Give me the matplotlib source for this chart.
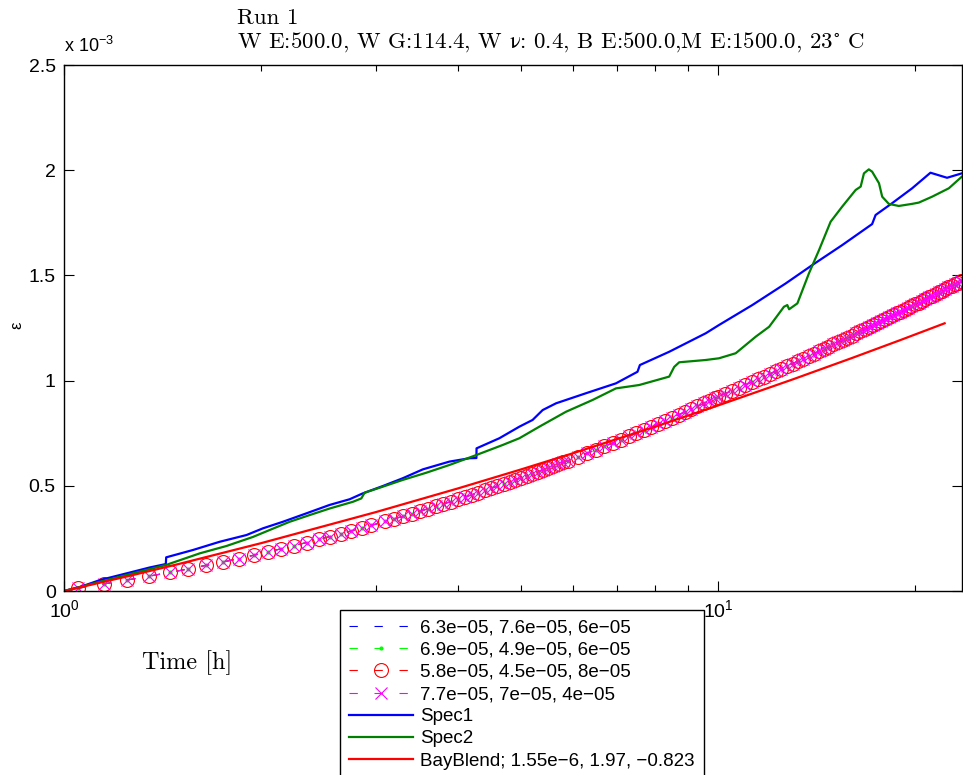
import numpy as np
import matplotlib
matplotlib.use('Agg')
import matplotlib.pyplot as plt

plt.rcParams['font.family'] = 'Liberation Sans'
plt.rcParams['mathtext.fontset'] = 'custom'
plt.rcParams['mathtext.rm'] = 'Liberation Sans'
plt.rcParams['mathtext.it'] = 'Liberation Sans:italic'
plt.rcParams['mathtext.default'] = 'regular'
plt.rcParams['lines.scale_dashes'] = False

# model curves (all four fits lie on top of each other), strain in 1e-3
t_model = np.concatenate([np.linspace(1.05, 2.95, 20), np.linspace(3.1, 5.9, 29),
                          np.linspace(6.1, 9.9, 20), np.linspace(10.0, 23.5, 55)])
eps_model = [0.0128, 0.0335, 0.0525, 0.0707, 0.0881, 0.105, 0.122, 0.138, 0.154, 0.170,
             0.186, 0.201, 0.216, 0.2305, 0.2448, 0.2588, 0.2725, 0.2859, 0.2991, 0.312,
             0.3309, 0.3432, 0.3555, 0.3674, 0.3792, 0.3908, 0.4023, 0.4135, 0.4246, 0.4355,
             0.4464, 0.457, 0.4676, 0.478, 0.4883, 0.4984, 0.5084, 0.5183, 0.5281, 0.5377,
             0.5473, 0.5567, 0.5661, 0.5753, 0.5845, 0.5935, 0.6025, 0.6113, 0.6201,
             0.6375, 0.6545, 0.6711, 0.6875, 0.7036, 0.7194, 0.7349, 0.7503, 0.7653, 0.7801,
             0.7948, 0.8092, 0.8233, 0.8373, 0.851, 0.8646, 0.8779, 0.8912, 0.9041, 0.917,
             0.923, 0.9375, 0.952, 0.9655, 0.979, 0.9925, 1.006, 1.019, 1.032, 1.0445,
             1.057, 1.069, 1.081, 1.093, 1.105, 1.1165, 1.128, 1.139, 1.150, 1.161,
             1.172, 1.1825, 1.193, 1.2035, 1.214, 1.224, 1.234, 1.244, 1.254, 1.2635,
             1.273, 1.2825, 1.292, 1.301, 1.310, 1.319, 1.328, 1.3365, 1.345, 1.3535,
             1.362, 1.3705, 1.379, 1.3875, 1.396, 1.404, 1.412, 1.42, 1.428, 1.4355,
             1.443, 1.4505, 1.458, 1.4655, 1.473]
model_labels = ['6.3e\u221205, 7.6e\u221205, 6e\u221205',
                '6.9e\u221205, 4.9e\u221205, 6e\u221205',
                '5.8e\u221205, 4.5e\u221205, 8e\u221205',
                '7.7e\u221205, 7e\u221205, 4e\u221205']

# measured specimens
t_spec1 = [1.0, 1.058, 1.135, 1.247, 1.353, 1.431, 1.433, 1.575, 1.730, 1.901, 2.015, 2.161,
           2.347, 2.547, 2.733, 2.863, 3.073, 3.296, 3.536, 3.884, 4.168, 4.271, 4.273, 4.630,
           4.968, 5.205, 5.393, 5.652, 6.281, 6.98, 7.53, 7.594, 8.419, 9.576, 10.03, 11.28,
           12.69, 13.93, 15.48, 17.20, 17.41, 18.45, 19.80, 21.12, 22.39, 23.58]
eps_spec1 = [0.0, 0.019, 0.052, 0.084, 0.112, 0.128, 0.160, 0.195, 0.234, 0.266, 0.298, 0.329,
             0.369, 0.409, 0.436, 0.464, 0.499, 0.536, 0.578, 0.615, 0.631, 0.632, 0.678, 0.726,
             0.781, 0.813, 0.860, 0.892, 0.940, 0.987, 1.042, 1.074, 1.137, 1.225, 1.264, 1.359,
             1.462, 1.549, 1.644, 1.744, 1.787, 1.843, 1.914, 1.988, 1.964, 1.985]

t_spec2 = [1.0, 1.247, 1.433, 1.613, 1.772, 1.945, 2.063, 2.213, 2.375, 2.547, 2.765, 2.848,
           2.881, 3.073, 3.296, 3.579, 3.884, 4.267, 4.685, 4.968, 5.33, 5.855, 6.43, 6.98,
           7.575, 8.419, 8.568, 8.72, 9.576, 10.03, 10.64, 11.42, 11.97, 12.61, 12.76, 12.84,
           13.22, 13.77, 14.27, 14.86, 15.48, 16.23, 16.52, 16.71, 17.0, 17.2, 17.62, 17.82,
           18.24, 18.89, 19.8, 20.27, 21.24, 22.53, 23.58]
eps_spec2 = [0.0, 0.076, 0.124, 0.179, 0.214, 0.257, 0.290, 0.329, 0.361, 0.392, 0.424, 0.440,
             0.467, 0.496, 0.528, 0.562, 0.599, 0.646, 0.694, 0.726, 0.781, 0.852, 0.908, 0.963,
             0.979, 1.019, 1.065, 1.087, 1.098, 1.106, 1.130, 1.209, 1.256, 1.351, 1.359, 1.339,
             1.367, 1.510, 1.621, 1.755, 1.827, 1.906, 1.922, 1.985, 2.004, 1.993, 1.938, 1.874,
             1.840, 1.830, 1.840, 1.846, 1.874, 1.914, 1.969]

# BayBlend fit
t_bay = [1.0, 1.25, 1.5, 2.0, 3.0, 4.0, 5.0, 6.0, 8.0, 10.0, 13.0, 16.0, 19.0, 22.2]
eps_bay = [0.0, 0.0695, 0.1289, 0.2271, 0.3753, 0.4873, 0.578, 0.6547, 0.7804, 0.8819,
           1.0055, 1.1067, 1.1927, 1.2724]

fig = plt.figure(figsize=(9.63, 7.75), dpi=100)
W, H = 963, 775
ax = fig.add_axes([64 / W, 1 - 591 / H, (962 - 64) / W, (591 - 65) / H])

dash = (6, 12)
l1, = ax.plot(t_model, eps_model, color='b', ls='--', dashes=dash, lw=0.8, label=model_labels[0])
l2, = ax.plot(t_model, eps_model, color=(0, 1, 0), ls='--', dashes=dash, lw=0.8,
              marker='.', ms=4, label=model_labels[1])
l3, = ax.plot(t_model, eps_model, color='r', ls='--', dashes=dash, lw=0.8,
              marker='o', ms=10, mfc='none', mew=0.8, label=model_labels[2])
l4, = ax.plot(t_model, eps_model, color=(1, 0, 1), ls='--', dashes=dash, lw=0.8,
              marker='x', ms=8, mew=0.8, label=model_labels[3])
l5, = ax.plot(t_spec1, eps_spec1, color='b', lw=1.6, label='Spec1')
l6, = ax.plot(t_spec2, eps_spec2, color=(0, 0.5, 0), lw=1.6, label='Spec2')
l7, = ax.plot(t_bay, eps_bay, color='r', lw=1.6, label='BayBlend; 1.55e\u22126, 1.97, \u22120.823')

ax.set_xscale('log')
ax.set_xlim(1, 23.6)
ax.set_ylim(0, 2.5)
ax.set_xticks([1, 10])
ax.set_xticklabels([r'$10^{0}$', r'$10^{1}$'])
ax.set_xticks([2, 3, 4, 5, 6, 7, 8, 9, 20], minor=True)
ax.set_xticklabels([], minor=True)
ax.set_yticks([0, 0.5, 1, 1.5, 2, 2.5])
ax.set_yticklabels(['0', '0.5', '1', '1.5', '2', '2.5'])
ax.tick_params(which='both', direction='in', top=True, right=True, labelsize=14, width=0.8)
ax.tick_params(which='major', length=7, pad=6)
ax.tick_params(which='minor', length=4)
for s in ax.spines.values():
    s.set_linewidth(1.0)

fig.text(64 / W, 1 - 46 / H, r'x 10$^{-3}$', fontsize=13, ha='left', va='center')

fig.text(237 / W, 1 - 18 / H, 'Run 1', family='cmr10', fontsize=16.5, ha='left', va='center')
fig.text(237 / W, 1 - 42 / H,
         r'W E:500.0, W G:114.4, W $\nu$: 0.4, B E:500.0,M E:1500.0, 23$^{\circ}$ C',
         family='cmr10', math_fontfamily='cm', fontsize=16.5, ha='left', va='center')
fig.text(187 / W, 1 - 663 / H, 'Time [h]', family='cmr10', fontsize=17.5, ha='center', va='center')
fig.text(17 / W, 1 - 325 / H, r'$\epsilon$', math_fontfamily='cm', fontsize=12,
         rotation=90, ha='center', va='center')

leg = ax.legend(handles=[l1, l2, l3, l4, l5, l6, l7], loc='upper left',
                bbox_to_anchor=(340 / W, 1 - 610 / H), bbox_transform=fig.transFigure,
                fontsize=13.5, numpoints=1, handlelength=3.4, handletextpad=0.35,
                labelspacing=0.27, borderpad=0.5, borderaxespad=0,
                fancybox=False, framealpha=1, edgecolor='k')
leg.get_frame().set_linewidth(1.0)

fig.savefig('out.png', dpi=100)
